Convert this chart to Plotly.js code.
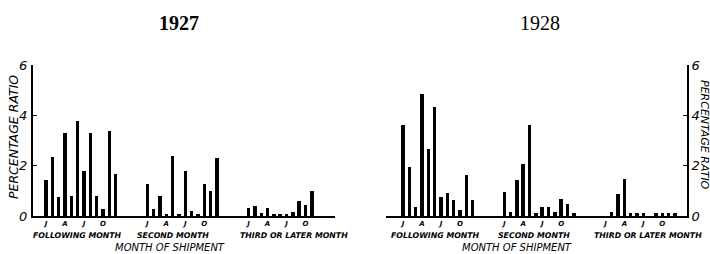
<!DOCTYPE html>
<html>
<head>
<meta charset="utf-8">
<script src="https://cdn.plot.ly/plotly-3.0.1.min.js"></script>
<style>html,body{margin:0;padding:0;background:#fff;}#chart{width:710px;height:254px;}</style>
</head>
<body>
<div id="chart"></div>
<script>
// ---- data (percentage ratio by month of shipment) ----
var months = ["Jan","Feb","Mar","Apr","May","Jun","Jul","Aug","Sep","Oct","Nov","Dec"];
var groupNames = ["FOLLOWING MONTH","SECOND MONTH","THIRD OR LATER MONTH"];
var monthTickLabels = ["J","A","J","O"];
var monthTickIndex = [0,3,6,9];

var following1927 = [1.45, 2.35, 0.75, 3.3, 0.8, 3.77, 1.8, 3.3, 0.8, 0.28, 3.38, 1.67];
var second1927    = [1.27, 0.28, 0.8, 0.08, 2.4, 0.08, 1.78, 0.2, 0.08, 1.27, 1.0, 2.29];
var third1927     = [0.32, 0.4, 0.12, 0.32, 0.08, 0.08, 0.08, 0.15, 0.58, 0.42, 1.0, null];

var following1928 = [3.6, 1.93, 0.35, 4.84, 2.65, 4.32, 0.75, 0.92, 0.63, 0.25, 1.63, 0.63];
var second1928    = [0.97, 0.15, 1.42, 2.05, 3.6, 0.1, 0.35, 0.35, 0.15, 0.67, 0.48, 0.1];
var third1928     = [null, 0.15, 0.87, 1.47, 0.12, 0.12, 0.13, null, 0.1, 0.1, 0.1, 0.1];

var yTicks = [0,2,4,6];

// ---- build ----
var GROUP_STEP = 16; // 12 months + gap
function slots(g){ return months.map(function(m,i){ return g*GROUP_STEP + i; }); }
function bars(vals, g, xa, ya){
  return {type:"bar", x: slots(g), y: vals, xaxis: xa, yaxis: ya,
          width: 0.55, marker:{color:"#000", line:{width:0}}, hoverinfo:"skip",
          name: groupNames[g]};
}
var traces = [
  bars(following1927,0,"x","y"), bars(second1927,1,"x","y"), bars(third1927,2,"x","y"),
  bars(following1928,0,"x2","y2"), bars(second1928,1,"x2","y2"), bars(third1928,2,"x2","y2")
];
var tv = [], tt = [];
[0,1,2].forEach(function(g){ monthTickIndex.forEach(function(i,k){ tv.push(g*GROUP_STEP+i); tt.push(monthTickLabels[k]); }); });

var W = 710;
var handFont = "DejaVu Sans, sans-serif";
var tickFontNum = {family: handFont, size: 13, color:"#000", style:"italic"};
function xax(dom, rng, anchor){
  return {domain: dom, range: rng, anchor: anchor, showline: true, linewidth: 1.5, linecolor:"#000",
          showgrid:false, zeroline:false, ticks:"", tickvals: tv, ticktext: tt,
          tickfont:{family: handFont, size: 7, color:"#000", style:"italic", weight:"bold"}, fixedrange:true};
}
var layout = {
  width: 710, height: 254,
  margin: {l:0, r:0, t:65, b:38, pad:0},
  paper_bgcolor:"#fff", plot_bgcolor:"#fff",
  showlegend:false, bargap:0,
  xaxis: xax([33/W, 335/W], [-2.05, 45.65], "y"),
  xaxis2: xax([386/W, 687/W], [-2.7, 44.9], "y2"),
  yaxis: {domain:[0,1], range:[0,6], anchor:"x", side:"left", showline:true, linewidth:2, linecolor:"#000",
          showgrid:false, zeroline:false, tickvals:yTicks, ticks:"inside", ticklen:4, tickwidth:1.5, tickcolor:"#000",
          tickfont: tickFontNum, ticklabelstandoff: 1},
  yaxis3: {overlaying:"y", anchor:"x", side:"right", range:[0,6], showline:true, linewidth:1, linecolor:"#666",
          showgrid:false, zeroline:false, tickvals:[2,4,6], ticks:"inside", ticklen:3, tickcolor:"#666", showticklabels:false},
  yaxis2: {domain:[0,1], range:[0,6], anchor:"x2", side:"right", showline:true, linewidth:2, linecolor:"#000",
          showgrid:false, zeroline:false, tickvals:yTicks, ticks:"inside", ticklen:4, tickwidth:1.5, tickcolor:"#000",
          tickfont: tickFontNum, ticklabelstandoff: 0},
  yaxis4: {overlaying:"y2", anchor:"x2", side:"left", range:[0,6], showline:true, linewidth:1, linecolor:"#444",
          showgrid:false, zeroline:false, tickvals:[2,4,6], ticks:"outside", ticklen:3, tickcolor:"#444", showticklabels:false},
  annotations: []
};
function ann(text, px, py, opts){
  var a = {text:text, x:px/W, y:(216-py)/151, xref:"paper", yref:"paper", showarrow:false,
           xanchor:"center", yanchor:"middle"};
  for (var k in opts) a[k]=opts[k];
  layout.annotations.push(a);
}
var groupFont = {family: handFont, size: 7.8, color:"#000", style:"italic", weight:"bold"};
var axisTitleFont = {family: handFont, size: 10, color:"#000", style:"italic"};
ann("1927", 179, 23, {font:{family:"Liberation Serif, serif", size:20, color:"#000", weight:"bold"}});
ann("1928", 540, 23, {font:{family:"Liberation Serif, serif", size:20, color:"#000"}});
[77,173,294].forEach(function(px,g){ ann(groupNames[g], px, 235, {font:groupFont}); });
[436,534,648].forEach(function(px,g){ ann(groupNames[g], px, 235, {font:groupFont}); });
ann("MONTH OF SHIPMENT", 170, 247, {font:axisTitleFont});
ann("MONTH OF SHIPMENT", 517, 247, {font:axisTitleFont});
ann("PERCENTAGE RATIO", 13, 137, {font:{family: handFont, size: 12.5, color:"#000", style:"italic"}, textangle:-90});
ann("PERCENTAGE RATIO", 705, 135, {font:{family: handFont, size: 11, color:"#000", style:"italic"}, textangle:90});

Plotly.newPlot("chart", traces, layout, {staticPlot:true, displayModeBar:false});
</script>
</body>
</html>
